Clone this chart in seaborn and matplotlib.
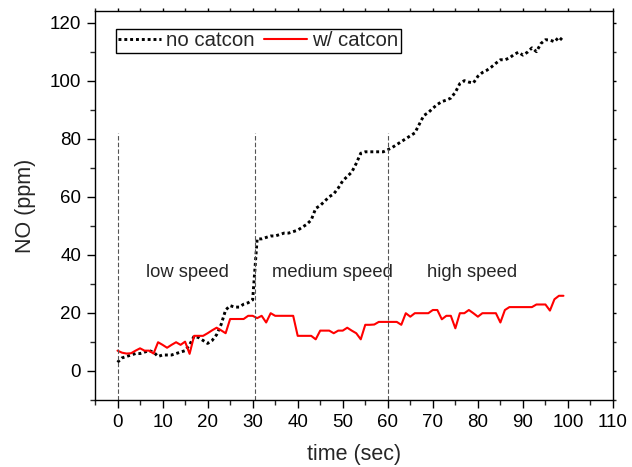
"""
NO concentration vs. time, with and without catalytic converter
"""

import numpy as np
import pandas as pd
import matplotlib
matplotlib.use("Agg")
import matplotlib.pyplot as plt
from matplotlib.lines import Line2D
import seaborn as sns

# time axis (sec), one reading per second
time_sec = list(range(100))

# no catcon (ppm)
no_catcon = [
    3, 4.5, 5, 5.5, 6, 6, 6.5, 7, 6.5, 5,
    5.5, 5.5, 5.5, 6, 6.5, 7, 9, 12, 11.5, 10.5,
    9.5, 10.5, 12.5, 16, 21, 22.5, 22, 22, 23, 23.5,
    24.5, 45.5, 45.5, 46, 46.5, 46.5, 47, 47.5, 47.5, 48,
    48.5, 49.5, 50.5, 52, 56, 57, 58.5, 60, 61, 63,
    65.5, 67, 68.5, 71.5, 75, 75.5, 75.5, 75.5, 75.5, 75.5,
    76.2, 77, 78, 79, 80, 81, 82, 85, 88, 89,
    90.5, 91.8, 92.8, 93.3, 94, 96, 99, 100, 99.5, 99.2,
    101.5, 102.8, 103.6, 104.7, 106, 107.2, 107.2, 107.8, 109, 109.8,
    108.8, 109.8, 111.3, 110, 112.8, 114.1, 114, 113.4, 115, 113.6,
]

# w/ catcon (ppm)
w_catcon = [
    7, 6.3, 6, 6.1, 7, 7.8, 7, 7, 6, 9.9,
    9, 8, 9, 9.9, 9, 10.1, 5.9, 12.1, 12.1, 12.1,
    13, 14, 14.9, 14, 13, 17.9, 17.9, 17.9, 17.9, 19,
    19, 18.2, 19, 16.7, 19.9, 19, 19, 19, 19, 19,
    12.1, 12.1, 12.1, 12.1, 10.9, 13.9, 13.9, 13.9, 13, 13.9,
    13.9, 14.9, 13.9, 13, 10.9, 15.9, 15.9, 16, 16.9, 16.9,
    16.9, 16.9, 16.9, 15.9, 19.9, 18.7, 19.9, 19.9, 19.9, 19.9,
    21, 21, 17.8, 19, 19, 14.7, 19.9, 19.9, 21, 19.9,
    18.7, 19.9, 19.9, 19.9, 19.9, 16.7, 21, 22, 22, 22,
    22, 22, 22, 22.9, 22.9, 22.9, 20.8, 24.7, 25.9, 25.9,
]

# phase boundaries and labels
phase_bounds = [0, 30.5, 60]
phase_names = ["low speed", "medium speed", "high speed"]
phase_label_x = [15.5, 47.8, 78.7]
phase_label_y = 34

sns.set_style("ticks")
plt.rcParams["font.family"] = ["Liberation Sans", "DejaVu Sans"]

df = pd.DataFrame({
    "time": time_sec * 2,
    "NO": no_catcon + w_catcon,
    "case": ["no catcon"] * len(time_sec) + ["w/ catcon"] * len(time_sec),
})

fig = plt.figure(figsize=(6.32, 4.67), dpi=100)
ax = fig.add_axes([95 / 632, 67 / 467, 518 / 632, 389 / 467])

sns.lineplot(
    data=df, x="time", y="NO", hue="case", style="case",
    palette={"no catcon": "black", "w/ catcon": "#ff0000"},
    dashes={"no catcon": (1, 1), "w/ catcon": ""},
    ax=ax, legend=False,
)
# tweak widths per series
ax.lines[0].set_linewidth(2.1)
ax.lines[1].set_linewidth(1.5)

# phase separators
for xb in phase_bounds:
    ax.plot([xb, xb], [-10, 82], color="#555555", lw=0.8, ls=(0, (4, 2)))
for name, xl in zip(phase_names, phase_label_x):
    ax.text(xl, phase_label_y, name, ha="center", va="center", fontsize=13.2)

ax.set_xlim(-5, 110)
ax.set_ylim(-10, 124)
ax.set_xticks(np.arange(0, 111, 10))
ax.set_xticks(np.arange(-5, 111, 5), minor=True)
ax.set_yticks(np.arange(0, 121, 20))
ax.set_yticks(np.arange(-10, 121, 10), minor=True)

ax.set_xlabel("time (sec)", fontsize=15.5, labelpad=9.5)
ax.set_ylabel("NO (ppm)", fontsize=15.5, labelpad=10)

for side in ["left", "bottom", "top", "right"]:
    ax.spines[side].set_linewidth(1.0)
    ax.spines[side].set_color("black")

ax.tick_params(axis="both", which="major", labelsize=13.5, length=6, width=1.0,
               direction="out", pad=4, colors="black")
ax.tick_params(axis="both", which="minor", length=3.5, width=1.0, direction="out")
ax.tick_params(axis="x", which="both", top=True, labeltop=False)
ax.tick_params(axis="y", which="both", right=True, labelright=False)
# short ticks on the mirrored spines
for t in ax.xaxis.get_major_ticks() + ax.xaxis.get_minor_ticks():
    t.tick2line.set_markersize(2)
for t in ax.yaxis.get_major_ticks() + ax.yaxis.get_minor_ticks():
    t.tick2line.set_markersize(2)

handles = [
    Line2D([], [], color="black", lw=2.1, ls=(0, (1, 1))),
    Line2D([], [], color="#ff0000", lw=1.5),
]
leg = ax.legend(
    handles, ["no catcon", "w/ catcon"], ncol=2, loc="upper left",
    bbox_to_anchor=(0.04, 0.954), borderaxespad=0, fontsize=14.7,
    frameon=True, fancybox=False, edgecolor="black", framealpha=1,
    handlelength=2.1, handletextpad=0.25, columnspacing=0.45, borderpad=0.12,
)
leg.get_frame().set_linewidth(1.0)

fig.savefig("out.png", dpi=100)
